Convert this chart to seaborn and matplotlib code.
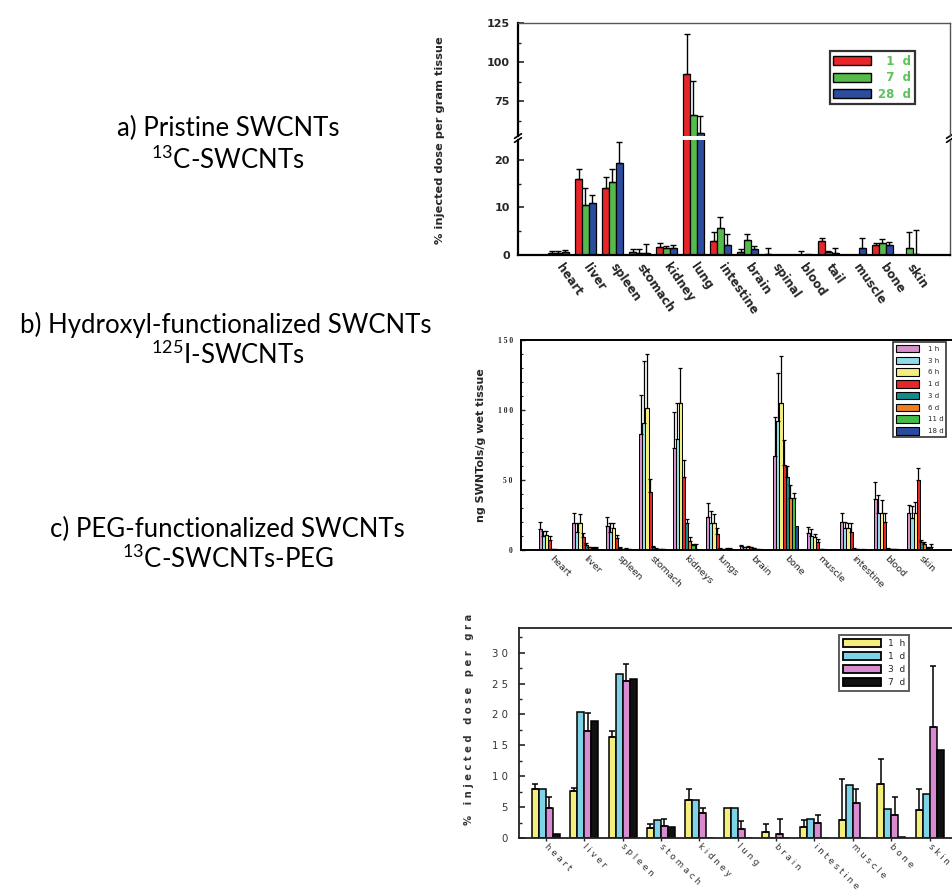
import numpy as np
import pandas as pd
import matplotlib
matplotlib.use("Agg")
import matplotlib.pyplot as plt
from matplotlib.patches import Patch
from matplotlib.ticker import MultipleLocator, FixedLocator
import seaborn as sns

sns.set_theme(style="white")
plt.rcParams["font.family"] = ["DejaVu Sans"]

# ---------------- panel a: pristine 13C-SWCNTs ----------------
organs_a = ["heart", "liver", "spleen", "stomach", "kidney", "lung", "intestine",
            "brain", "spinal", "blood", "tail", "muscle", "bone", "skin"]
times_a = ["1 d", "7 d", "28 d"]
colors_a = ["#e8262a", "#55bb4a", "#2b4c9f"]
a_1d = [0.5, 15.9, 14.0, 0.6, 1.7, 92.5, 3.0, 0.6, 0.3, 0.0, 2.9, 0.0, 2.0, 0.0]
a_1d_top = [0.8, 18.0, 16.4, 1.3, 2.6, 118.0, 4.9, 1.2, 1.5, 0.0, 3.6, 0.0, 2.6, 0.0]
a_7d = [0.5, 10.5, 15.4, 0.5, 1.5, 66.5, 5.6, 3.2, 0.0, 0.05, 0.6, 0.0, 2.6, 1.4]
a_7d_top = [0.9, 14.2, 18.2, 1.3, 1.9, 88.3, 8.1, 4.4, 0.0, 0.9, 0.8, 0.0, 3.3, 4.8]
a_28d = [0.6, 10.9, 19.3, 0.4, 1.5, 55.0, 2.0, 1.2, 0.0, 0.05, 0.4, 1.5, 2.2, 0.2]
a_28d_top = [1.0, 12.6, 23.8, 2.3, 2.0, 65.7, 4.4, 1.8, 0.0, 0.3, 1.4, 3.5, 2.7, 5.3]
legend_a = ["  1  d", "  7  d", "28  d"]

# ---------------- panel b: hydroxyl 125I-SWCNTs ----------------
organs_b = ["heart", "liver", "spleen", "stomach", "kidneys", "lungs", "brain",
            "bone", "muscle", "intestine", "blood", "skin"]
times_b = ["1 h", "3 h", "6 h", "1 d", "3 d", "6 d", "11 d", "18 d"]
colors_b = ["#d58fc9", "#8fdbea", "#f2ee7e", "#e5262b", "#138a89", "#f07f23", "#43be45", "#2a4a9e"]
b_1h = [14.8, 19.5, 17.0, 82.9, 73.1, 23.8, 2.8, 67.4, 11.9, 20.2, 36.2, 26.7]
b_1h_top = [20.0, 26.7, 23.8, 110.7, 98.8, 33.8, 3.3, 94.8, 16.7, 26.7, 48.8, 32.1]
b_3h = [10.0, 13.1, 13.1, 90.5, 79.3, 19.0, 1.8, 92.4, 10.0, 15.5, 26.2, 22.6]
b_3h_top = [13.8, 19.5, 19.5, 135.0, 105.0, 28.0, 2.5, 126.7, 14.8, 20.2, 39.3, 31.4]
b_6h = [10.7, 19.5, 15.5, 101.7, 104.8, 19.0, 2.5, 104.8, 9.5, 15.5, 26.7, 26.7]
b_6h_top = [13.6, 25.7, 19.5, 140.0, 130.2, 26.0, 3.0, 138.8, 11.2, 19.5, 35.7, 34.5]
b_1d = [7.1, 9.0, 8.3, 41.7, 52.4, 11.4, 2.0, 60.7, 5.5, 13.1, 20.2, 50.0]
b_1d_top = [10.0, 12.0, 11.0, 50.5, 64.3, 16.0, 2.3, 78.6, 7.6, 19.0, 26.7, 58.3]
b_3d = [0.5, 3.6, 1.5, 2.0, 19.5, 1.0, 1.2, 52.4, 0.5, 1.0, 1.0, 6.0]
b_3d_top = [0.8, 4.8, 2.5, 3.0, 22.0, 1.5, 1.5, 60.0, 0.8, 1.3, 1.3, 7.1]
b_6d = [0.3, 2.0, 0.8, 1.0, 6.7, 0.5, 0.5, 37.4, 0.3, 0.5, 0.7, 4.5]
b_6d_top = [0.5, 2.5, 1.0, 1.5, 9.5, 0.8, 0.7, 46.4, 0.5, 0.7, 1.0, 6.0]
b_11d = [0.2, 1.5, 1.0, 0.5, 3.3, 1.0, 0.3, 37.4, 0.2, 0.3, 0.5, 1.5]
b_11d_top = [0.3, 2.5, 1.5, 0.8, 4.5, 1.3, 0.5, 40.5, 0.3, 0.5, 0.7, 2.5]
b_18d = [0.2, 1.5, 0.8, 0.5, 1.0, 1.0, 0.2, 17.0, 0.2, 0.3, 0.3, 2.0]
b_18d_top = [0.3, 2.0, 1.0, 0.8, 4.0, 1.3, 0.3, 17.0, 0.3, 0.5, 0.5, 4.5]

# ---------------- panel c: PEG 13C-SWCNTs-PEG ----------------
organs_c = ["heart", "liver", "spleen", "stomach", "kidney", "lung", "brain",
            "intestine", "muscle", "bone", "skin"]
times_c = ["1 h", "1 d", "3 d", "7 d"]
colors_c = ["#f4ef7c", "#7ed4e6", "#d88bd0", "#111111"]
c_1h = [7.9, 7.6, 16.3, 1.6, 6.1, 4.9, 0.9, 1.8, 2.9, 8.8, 4.5]
c_1h_top = [8.7, 8.1, 17.3, 2.2, 7.9, 4.9, 2.2, 2.9, 9.5, 12.8, 7.9]
c_1d = [7.9, 20.4, 26.6, 2.9, 6.2, 4.9, 0.0, 3.1, 8.6, 4.7, 7.1]
c_1d_top = c_1d
c_3d = [4.9, 17.3, 25.5, 2.0, 4.1, 1.4, 0.6, 2.4, 5.6, 3.7, 18.0]
c_3d_top = [6.6, 20.3, 28.1, 3.1, 4.8, 2.7, 3.0, 3.7, 7.9, 6.7, 27.8]
c_7d = [0.7, 19.0, 25.8, 1.8, 0.0, 0.0, 0.0, 0.0, 0.0, 0.1, 14.3]
c_7d_top = c_7d
legend_c = ["1  h", "1  d", "3  d", "7  d"]

W, H = 953, 894
fig = plt.figure(figsize=(W / 100, H / 100), dpi=100)


def px_axes(l, t, r, b):
    return fig.add_axes([l / W, 1 - b / H, (r - l) / W, (b - t) / H])


def spaced(s):
    return "   ".join(" ".join(w) for w in s.split())


def bar_panel(ax, organs, times, vals, tops, colors, width, lw, capsize, elw):
    rows = []
    for t, v in zip(times, vals):
        for o, y in zip(organs, v):
            rows.append((o, t, y))
    df = pd.DataFrame(rows, columns=["organ", "time", "value"])
    sns.barplot(data=df, x="organ", y="value", hue="time", order=organs,
                hue_order=times, palette=dict(zip(times, colors)), width=width,
                dodge=True, saturation=1, edgecolor="black", linewidth=lw,
                errorbar=None, legend=False, ax=ax)
    for cont, v, top in zip(ax.containers, vals, tops):
        xs = np.array([b.get_x() + b.get_width() / 2 for b in cont])
        v = np.asarray(v, float)
        top = np.asarray(top, float)
        m = top > v
        if m.any():
            ax.errorbar(xs[m], v[m], yerr=[np.zeros(m.sum()), (top - v)[m]],
                        fmt="none", ecolor="black", elinewidth=elw,
                        capsize=capsize, capthick=elw)
    ax.set_xlabel("")
    ax.set_ylabel("")


# ---- panel a (broken axis) ----
ax_hi = px_axes(518, 23, 950, 136)
ax_lo = px_axes(518, 140, 950, 255)
vals_a = [a_1d, a_7d, a_28d]
tops_a = [a_1d_top, a_7d_top, a_28d_top]
for ax in (ax_hi, ax_lo):
    bar_panel(ax, organs_a, times_a, vals_a, tops_a, colors_a, 0.75, 0.9, 2.3, 1.0)
    ax.set_xlim(-1.5, 14.5)
    ax.tick_params(axis="y", direction="in", length=4, width=1.2, labelsize=8,
                   pad=6, left=True)
    ax.tick_params(axis="y", which="minor", direction="in", length=2.5, width=1, left=True)
ax_hi.set_ylim(53, 125)
ax_hi.yaxis.set_major_locator(FixedLocator([75, 100, 125]))
ax_hi.yaxis.set_minor_locator(FixedLocator([62.5, 87.5, 112.5]))
ax_hi.set_yticklabels(["75", "100", "125"], fontweight="bold")
ax_hi.set_xticks([])
ax_hi.spines["bottom"].set_visible(False)
ax_lo.set_ylim(0, 24.2)
ax_lo.yaxis.set_major_locator(FixedLocator([0, 10, 20]))
ax_lo.yaxis.set_minor_locator(FixedLocator([5, 15]))
ax_lo.set_yticklabels(["0", "10", "20"], fontweight="bold")
ax_lo.spines["top"].set_visible(False)
ax_lo.set_xticks(range(len(organs_a)))
ax_lo.set_xticklabels(organs_a, rotation=-55, ha="left", va="center",
                      rotation_mode="anchor", fontsize=8.5, fontweight="bold")
ax_lo.tick_params(axis="x", length=0, pad=7)
for ax in (ax_hi, ax_lo):
    ax.spines["left"].set_linewidth(1.6)
    ax.spines["left"].set_color("black")
    ax.spines["right"].set_color("#555555")
    ax.spines["right"].set_linewidth(1.0)
ax_hi.spines["top"].set_color("#555555")
ax_hi.spines["top"].set_linewidth(1.0)
ax_lo.spines["bottom"].set_linewidth(1.6)
ax_lo.spines["bottom"].set_color("black")
# break marks on the axis
for xb in (0, 1):
    for yb, axb in ((0, ax_hi), (1, ax_lo)):
        axb.plot([xb - 0.008, xb + 0.008], [yb - 0.02, yb + 0.02],
                 transform=axb.transAxes, color="black", lw=1.2, clip_on=False)
fig.text(440 / W, 1 - 140 / H, "% injected dose per gram tissue", rotation=90,
         ha="center", va="center", fontsize=8.2, fontweight="bold")
handles = [Patch(facecolor=c, edgecolor="black", linewidth=1.0) for c in colors_a]
leg = ax_hi.legend(handles, legend_a, loc="upper left", bbox_to_anchor=(0.722, 0.75),
                   frameon=True, fancybox=False, edgecolor="black", fontsize=8.5,
                   handlelength=3.2, handleheight=0.75, labelspacing=0.3,
                   borderpad=0.3, handletextpad=0.6, borderaxespad=0)
leg.get_frame().set_linewidth(1.6)
for t in leg.get_texts():
    t.set_color("#5cc25a")
    t.set_fontweight("bold")

# ---- panel b ----
ax_b = px_axes(521, 340, 960, 550)
vals_b = [b_1h, b_3h, b_6h, b_1d, b_3d, b_6d, b_11d, b_18d]
tops_b = [b_1h_top, b_3h_top, b_6h_top, b_1d_top, b_3d_top, b_6d_top, b_11d_top, b_18d_top]
bar_panel(ax_b, organs_b, times_b, vals_b, tops_b, colors_b, 0.75, 0.7, 1.2, 0.9)
ax_b.set_xlim(-0.9, 12.2)
ax_b.set_ylim(0, 150)
ax_b.yaxis.set_major_locator(FixedLocator([0, 50, 100, 150]))
ax_b.yaxis.set_minor_locator(MultipleLocator(10))
ax_b.set_yticklabels(["0", "5 0", "1 0 0", "1 5 0"], fontsize=5.5,
                     fontfamily="Liberation Serif", fontweight="bold")
ax_b.tick_params(axis="y", direction="in", length=3, width=1, left=True, pad=6)
ax_b.tick_params(axis="y", which="minor", direction="in", length=1.5, width=0.8, left=True)
ax_b.set_xticks(range(len(organs_b)))
ax_b.set_xticklabels(organs_b, rotation=-45, ha="left", va="center",
                     rotation_mode="anchor", fontsize=6.8)
ax_b.tick_params(axis="x", length=0, pad=5)
ax_b.spines["right"].set_visible(False)
for s in ("left", "bottom", "top"):
    ax_b.spines[s].set_color("black")
    ax_b.spines[s].set_linewidth(1.4)
fig.text(481 / W, 1 - 445 / H, "ng SWNTols/g wet tissue", rotation=90,
         ha="center", va="center", fontsize=8, fontweight="bold")
handles = [Patch(facecolor=c, edgecolor="black", linewidth=0.8) for c in colors_b]
leg = ax_b.legend(handles, times_b, loc="upper left", bbox_to_anchor=(0.847, 0.99),
                  frameon=True, fancybox=False, edgecolor="black", fontsize=5,
                  handlelength=3.4, handleheight=1.3, labelspacing=0.6,
                  borderpad=0.4, handletextpad=1.2, borderaxespad=0)
leg.get_frame().set_linewidth(1.2)

# ---- panel c ----
ax_c = px_axes(519, 628, 968, 838)
vals_c = [c_1h, c_1d, c_3d, c_7d]
tops_c = [c_1h_top, c_1d_top, c_3d_top, c_7d_top]
bar_panel(ax_c, organs_c, times_c, vals_c, tops_c, colors_c, 0.73, 1.1, 2.5, 1.1)
ax_c.set_xlim(-0.7, 11.0)
ax_c.set_ylim(0, 34)
ax_c.yaxis.set_major_locator(FixedLocator([0, 5, 10, 15, 20, 25, 30]))
ax_c.yaxis.set_minor_locator(MultipleLocator(2.5))
ax_c.set_yticklabels(["0", "5", "1 0", "1 5", "2 0", "2 5", "3 0"], fontsize=7.3,
                     color="#333333")
ax_c.tick_params(axis="y", direction="in", length=4, width=1.2, left=True, pad=8)
ax_c.tick_params(axis="y", which="minor", direction="in", length=2.5, width=1, left=True)
ax_c.set_xticks(range(len(organs_c)))
ax_c.set_xticklabels([spaced(o) for o in organs_c], rotation=-45, ha="left",
                     va="center", rotation_mode="anchor", fontsize=6.3,
                     color="#333333")
ax_c.tick_params(axis="x", direction="out", length=2, width=1, bottom=True, pad=3)
ax_c.spines["right"].set_visible(False)
for s in ("left", "bottom", "top"):
    ax_c.spines[s].set_color("#222222")
    ax_c.spines[s].set_linewidth(1.3)
fig.text(469 / W, 1 - 719 / H, spaced("% injected dose per gra"), rotation=90,
         ha="center", va="center", fontsize=7.2, fontweight="bold", color="#333333")
handles = [Patch(facecolor=c, edgecolor="black", linewidth=1.3) for c in colors_c]
leg = ax_c.legend(handles, legend_c, loc="upper left", bbox_to_anchor=(0.713, 0.967),
                  frameon=True, fancybox=False, edgecolor="#333333", fontsize=6.5,
                  handlelength=4.2, handleheight=1.0, labelspacing=0.45,
                  borderpad=0.4, handletextpad=0.8, borderaxespad=0)
leg.get_frame().set_linewidth(1.4)

# ---- left-hand captions ----
cap_font = dict(ha="center", va="center", fontsize=18.5, family="Lato", color="black")
fig.text(228 / W, 1 - 128 / H, "a) Pristine SWCNTs", **cap_font)
fig.text(228 / W, 1 - 160 / H, r"$\mathregular{^{13}}$C-SWCNTs", **cap_font)
fig.text(226 / W, 1 - 325 / H, "b) Hydroxyl-functionalized SWCNTs", **cap_font)
fig.text(228 / W, 1 - 355 / H, r"$\mathregular{^{125}}$I-SWCNTs", **cap_font)
fig.text(227 / W, 1 - 529 / H, "c) PEG-functionalized SWCNTs", **cap_font)
fig.text(228 / W, 1 - 559 / H, r"$\mathregular{^{13}}$C-SWCNTs-PEG", **cap_font)

fig.savefig("out.png", dpi=100, facecolor="white")
